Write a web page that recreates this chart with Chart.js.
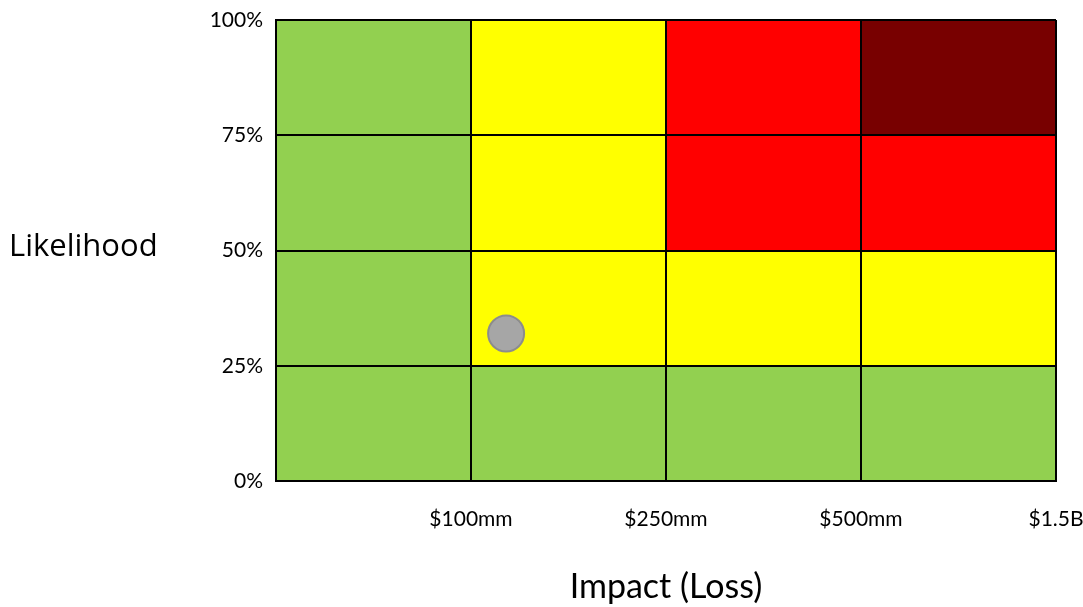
<!DOCTYPE html>
<html>
<head>
<meta charset="utf-8">
<script src="https://cdn.jsdelivr.net/npm/chart.js@4/dist/chart.umd.min.js"></script>
<style>
  html, body { margin: 0; padding: 0; background: #fff; }
  #wrap { width: 1083px; height: 607px; }
</style>
</head>
<body>
<div id="wrap"><canvas id="riskChart" width="1083" height="607"></canvas></div>
<script>
// impact columns (x), one per unit on the x scale
var impactColumns = [0.5, 1.5, 2.5, 3.5];
var impactTickLabels = ['', '$100mm', '$250mm', '$500mm', '$1.5B'];

// likelihood bands (y), bottom to top
var likelihoodBands = [[0, 25], [25, 50], [50, 75], [75, 100]];

// cell colours per band, left to right
var GREEN = '#92D050', YELLOW = '#FFFF00', RED = '#FF0000', DARK_RED = '#780000';
var bandColors = [
  [GREEN, GREEN, GREEN, GREEN],
  [GREEN, YELLOW, YELLOW, YELLOW],
  [GREEN, YELLOW, RED, RED],
  [GREEN, YELLOW, RED, DARK_RED]
];

// the assessed risk
var riskImpact = [1.18];
var riskLikelihood = [32];

var LABEL_FONT = 'Lato, "Open Sans", sans-serif';

/*
  Horizontal y axis title, drawn left of the tick labels.
*/
var likelihoodTitle = {
  id: 'likelihoodTitle',
  afterDraw: function (chart) {
    var ctx = chart.ctx;
    var y = chart.scales.y.getPixelForValue(50);
    ctx.save();
    ctx.fillStyle = '#000';
    ctx.font = '31px "Open Sans", sans-serif';
    ctx.textAlign = 'left';
    ctx.textBaseline = 'alphabetic';
    ctx.fillText('Likelihood', 9, y + 5);
    ctx.restore();
  }
};

var datasets = [{
  type: 'scatter',
  label: 'Risk',
  data: riskImpact.map(function (x, i) { return { x: x, y: riskLikelihood[i] }; }),
  pointRadius: 18,
  pointHoverRadius: 18,
  backgroundColor: '#A6A6A6',
  borderColor: '#8C8C8C',
  borderWidth: 2,
  order: 0
}];

likelihoodBands.forEach(function (band, b) {
  datasets.push({
    type: 'bar',
    label: band[0] + '-' + band[1] + '%',
    data: impactColumns.map(function (x) { return { x: x, y: band }; }),
    backgroundColor: bandColors[b],
    borderWidth: 0,
    barPercentage: 1,
    categoryPercentage: 1,
    grouped: false,
    order: 1
  });
});

new Chart(document.getElementById('riskChart'), {
  type: 'bar',
  data: { datasets: datasets },
  options: {
    responsive: false,
    animation: false,
    layout: { padding: { left: 0, top: 17, right: 27, bottom: 0 } },
    plugins: {
      legend: { display: false },
      tooltip: { enabled: false }
    },
    scales: {
      x: {
        type: 'linear',
        min: 0,
        max: 4,
        offset: false,
        afterFit: function (scale) {
          scale.height = 126;
          scale.paddingLeft = 0;
          scale.paddingRight = 0;
        },
        grid: { offset: false, color: '#000', lineWidth: 2, drawTicks: false, z: 1 },
        border: { display: true, color: '#000', width: 2, z: 1 },
        ticks: {
          stepSize: 1,
          padding: 26,
          color: '#000',
          font: { family: LABEL_FONT, size: 21 },
          maxRotation: 0,
          callback: function (v) { return impactTickLabels[v]; }
        },
        title: {
          display: true,
          text: 'Impact (Loss)',
          color: '#000',
          font: { family: LABEL_FONT, size: 34 },
          padding: { top: 0, bottom: 0 }
        }
      },
      y: {
        type: 'linear',
        min: 0,
        max: 100,
        afterFit: function (scale) {
          scale.width = 276;
          scale.paddingTop = 0;
          scale.paddingBottom = 0;
        },
        grid: { color: '#000', lineWidth: 2, drawTicks: false, z: 1 },
        border: { display: true, color: '#000', width: 2, z: 1 },
        ticks: {
          stepSize: 25,
          padding: 13,
          color: '#000',
          font: { family: LABEL_FONT, size: 21 },
          callback: function (v) { return v + '%'; }
        }
      }
    }
  },
  plugins: [likelihoodTitle]
});
</script>
</body>
</html>
